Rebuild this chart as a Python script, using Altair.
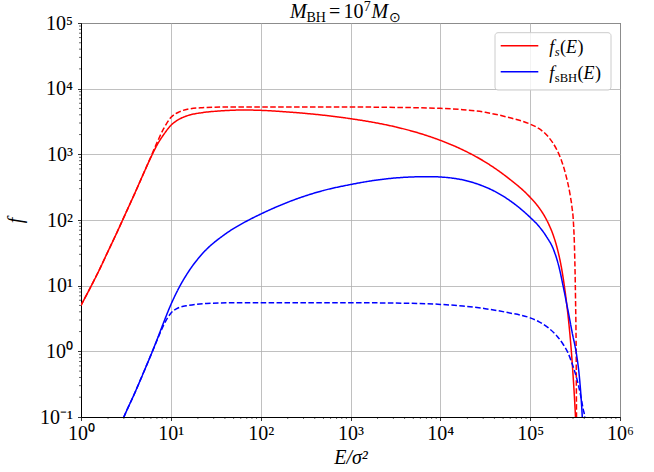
import altair as alt
import numpy as np
import pandas as pd

# ---- values (log10 E/sigma^2, log10 f) ----
red_solid_logE = [0.0, 0.1, 0.2, 0.3, 0.4, 0.5, 0.6, 0.7, 0.78, 0.85, 0.92, 1.0, 1.1, 1.2, 1.35, 1.54,
                  1.8, 2.0, 2.25, 2.5, 2.75, 3.0, 3.25, 3.5, 3.75, 4.0, 4.25, 4.5, 4.75, 5.0, 5.1, 5.2,
                  5.25, 5.3, 5.34, 5.37, 5.40, 5.43, 5.455, 5.48, 5.50, 5.51]
red_solid_logf = [0.70, 0.96, 1.23, 1.52, 1.81, 2.11, 2.41, 2.72, 2.96, 3.15, 3.30, 3.44, 3.54, 3.595, 3.635, 3.66,
                  3.675, 3.67, 3.65, 3.623, 3.588, 3.543, 3.488, 3.418, 3.328, 3.213, 3.068, 2.883, 2.645, 2.345,
                  2.185, 1.955, 1.795, 1.575, 1.335, 1.095, 0.795, 0.435, 0.06, -0.415, -0.875, -1.15]

red_dash_logE = [0.0, 0.1, 0.2, 0.3, 0.4, 0.5, 0.6, 0.7, 0.78, 0.85, 0.92, 1.0, 1.1, 1.2, 1.35, 1.6,
                 2.0, 3.0, 3.5, 4.0, 4.25, 4.5, 4.75, 5.0, 5.1, 5.2, 5.3, 5.35, 5.4, 5.44, 5.465, 5.48,
                 5.495, 5.505, 5.512, 5.517]
red_dash_logf = [0.70, 0.96, 1.23, 1.52, 1.81, 2.11, 2.41, 2.72, 2.97, 3.19, 3.39, 3.56, 3.65, 3.69, 3.71, 3.72,
                 3.72, 3.72, 3.715, 3.70, 3.68, 3.64, 3.565, 3.46, 3.39, 3.27, 3.06, 2.90, 2.67, 2.42, 2.20, 2.0,
                 1.5, 0.8, 0.0, -1.3]

blue_solid_logE = [0.44, 0.477, 0.6, 0.7, 0.78, 0.85, 0.92, 1.0, 1.08, 1.2, 1.36, 1.6, 1.84, 2.0, 2.32, 2.7,
                   3.0, 3.25, 3.5, 3.75, 3.9, 4.0, 4.15, 4.3, 4.45, 4.6, 4.8, 5.0, 5.1, 5.18, 5.26, 5.32,
                   5.366, 5.42, 5.47, 5.514, 5.545, 5.565, 5.58, 5.585]
blue_solid_logf = [-1.12, -1.0, -0.63, -0.31, -0.05, 0.19, 0.44, 0.71, 0.94, 1.22, 1.50, 1.78, 1.98, 2.09, 2.28,
                   2.45, 2.54, 2.60, 2.64, 2.658, 2.66, 2.655, 2.635, 2.595, 2.53, 2.44, 2.27, 2.04, 1.90, 1.75,
                   1.55, 1.29, 1.0, 0.63, 0.27, -0.03, -0.35, -0.67, -1.0, -1.15]

blue_dash_logE = [0.44, 0.477, 0.6, 0.7, 0.78, 0.85, 0.92, 1.0, 1.08, 1.2, 1.4, 1.7, 2.0, 3.0, 3.5, 4.0,
                  4.25, 4.5, 4.75, 5.0, 5.1, 5.2, 5.3, 5.37, 5.42, 5.47, 5.52, 5.56, 5.59, 5.607, 5.615]
blue_dash_logf = [-1.12, -1.0, -0.63, -0.31, -0.05, 0.18, 0.40, 0.58, 0.66, 0.70, 0.73, 0.74, 0.74, 0.74, 0.735,
                  0.715, 0.69, 0.65, 0.59, 0.51, 0.45, 0.36, 0.23, 0.10, -0.02, -0.2, -0.42, -0.66, -0.88,
                  -1.0, -1.2]

series_names = ["fs_solid", "fs_dashed", "fsBH_solid", "fsBH_dashed"]
series_colors = ["#ff0000", "#ff0000", "#0000ff", "#0000ff"]
series_dashes = [[1, 0], [5.55, 2.4], [1, 0], [5.55, 2.4]]

x_major = [1, 10, 100, 1000, 10000, 100000, 1000000]
y_major = [0.1, 1, 10, 100, 1000, 10000, 100000]
x_minor = [k * 10 ** n for n in range(0, 6) for k in range(2, 10)]
y_minor = [k * 10.0 ** n for n in range(-1, 5) for k in range(2, 10)]


def frame(logE, logf, name):
    return pd.DataFrame({"E": np.power(10.0, logE), "f": np.power(10.0, logf), "series": name})


df = pd.concat([
    frame(red_solid_logE, red_solid_logf, series_names[0]),
    frame(red_dash_logE, red_dash_logf, series_names[1]),
    frame(blue_solid_logE, blue_solid_logf, series_names[2]),
    frame(blue_dash_logE, blue_dash_logf, series_names[3]),
], ignore_index=True)

W, H = 539, 394
FONT = "Liberation Serif"

xscale = alt.Scale(type="log", domain=[1, 1e6], nice=False)
yscale = alt.Scale(type="log", domain=[0.1, 1e5], nice=False)

exp_ = "round(log(datum.value)/LN10)"
label_expr = ("'10' + (" + exp_ + " < 0 ? '\u207b' : '') + substring('\u2070\u00b9\u00b2\u00b3\u2074\u2075\u2076\u2077\u2078\u2079', abs("
              + exp_ + "), abs(" + exp_ + ") + 1)")

xaxis = alt.Axis(values=x_major, labelExpr=label_expr, grid=True, tickSize=3.5, labelPadding=3,
                 labelFlush=False, labelOverlap=False,
                 title="E/\u03c3\u00b2", titleFontStyle="italic", titleY=46, titleBaseline="alphabetic")
yaxis = alt.Axis(values=y_major, labelExpr=label_expr, grid=True, tickSize=3.5, labelPadding=5,
                 labelFlush=False, labelOverlap=False,
                 title="f", titleFontStyle="italic", titleX=-60, titleY=H / 2, titleAngle=270,
                 titleAlign="center", titleBaseline="alphabetic")

lines = alt.Chart(df).mark_line(clip=True, strokeWidth=1.5, interpolate="monotone").encode(
    x=alt.X("E:Q", scale=xscale, axis=xaxis),
    y=alt.Y("f:Q", scale=yscale, axis=yaxis),
    color=alt.Color("series:N", scale=alt.Scale(domain=series_names, range=series_colors), legend=None),
    strokeDash=alt.StrokeDash("series:N", scale=alt.Scale(domain=series_names, range=series_dashes), legend=None),
)

xminor = alt.Chart(pd.DataFrame({"E": x_minor})).mark_rule(color="black", strokeWidth=0.6).encode(
    x=alt.X("E:Q", scale=xscale, axis=xaxis), y=alt.value(H), y2=alt.value(H + 2)
)
yminor = alt.Chart(pd.DataFrame({"f": y_minor})).mark_rule(color="black", strokeWidth=0.6).encode(
    y=alt.Y("f:Q", scale=yscale, axis=yaxis), x=alt.value(0), x2=alt.value(-2)
)

dummy = pd.DataFrame({"a": [0]})


def txt(s, x, y, size=20, style="normal", align="left"):
    return alt.Chart(dummy).mark_text(text=s, fontSize=size, font=FONT, fontStyle=style, align=align,
                                      baseline="alphabetic", color="black").encode(
        x=alt.value(x), y=alt.value(y))


# title  M_BH = 10^7 M_sun
ty = -4.7
title_parts = [
    txt("M", 209, ty, 20, "italic"),
    txt("BH", 225.5, ty + 3.5, 14),
    txt("=", 248, ty, 20),
    txt("10", 262.5, ty, 20),
    txt("7", 282.8, ty - 7.5, 14),
    txt("M", 290.5, ty, 20, "italic"),
    txt("\u2299", 307.5, ty + 3.5, 14),
]

# legend
legend_box = alt.Chart(dummy).mark_rect(fill="white", fillOpacity=0.8, stroke="#cccccc", strokeWidth=1,
                                        cornerRadius=3).encode(
    x=alt.value(414), x2=alt.value(530), y=alt.value(9.7), y2=alt.value(67))
leg_red = alt.Chart(dummy).mark_rule(color="#ff0000", strokeWidth=1.5).encode(
    x=alt.value(419.7), x2=alt.value(457.3), y=alt.value(22.7))
leg_blue = alt.Chart(dummy).mark_rule(color="#0000ff", strokeWidth=1.5).encode(
    x=alt.value(419.7), x2=alt.value(457.3), y=alt.value(48.7))
l1, l2 = 29.5, 55.5
legend_text = [
    txt("f", 468.3, l1, 18, "italic"),
    txt("s", 473.8, l1 + 3.5, 12.6, "italic"),
    txt("(", 479.0, l1, 18),
    txt("E", 485.0, l1, 18, "italic"),
    txt(")", 496.5, l1, 18),
    txt("f", 468.3, l2, 18, "italic"),
    txt("sBH", 473.8, l2 + 3.5, 12.6),
    txt("(", 496.5, l2, 18),
    txt("E", 502.5, l2, 18, "italic"),
    txt(")", 514.0, l2, 18),
]

chart = alt.layer(lines, xminor, yminor, legend_box, leg_red, leg_blue, *title_parts, *legend_text).properties(
    width=W, height=H, autosize="none", background="white",
    padding={"left": 81, "top": 23, "right": 654 - 81 - W, "bottom": 472 - 23 - H},
).configure_view(stroke="black", strokeWidth=1).configure_axis(
    labelFont=FONT, labelFontSize=20, labelColor="black", titleFont=FONT, titleFontSize=20,
    titleFontWeight="normal", titleColor="black", domainColor="black", domainWidth=1,
    tickColor="black", tickWidth=0.8, gridColor="#b0b0b0", gridWidth=0.8,
)

chart.save("out.html", embed_options={"renderer": "svg", "actions": False})
